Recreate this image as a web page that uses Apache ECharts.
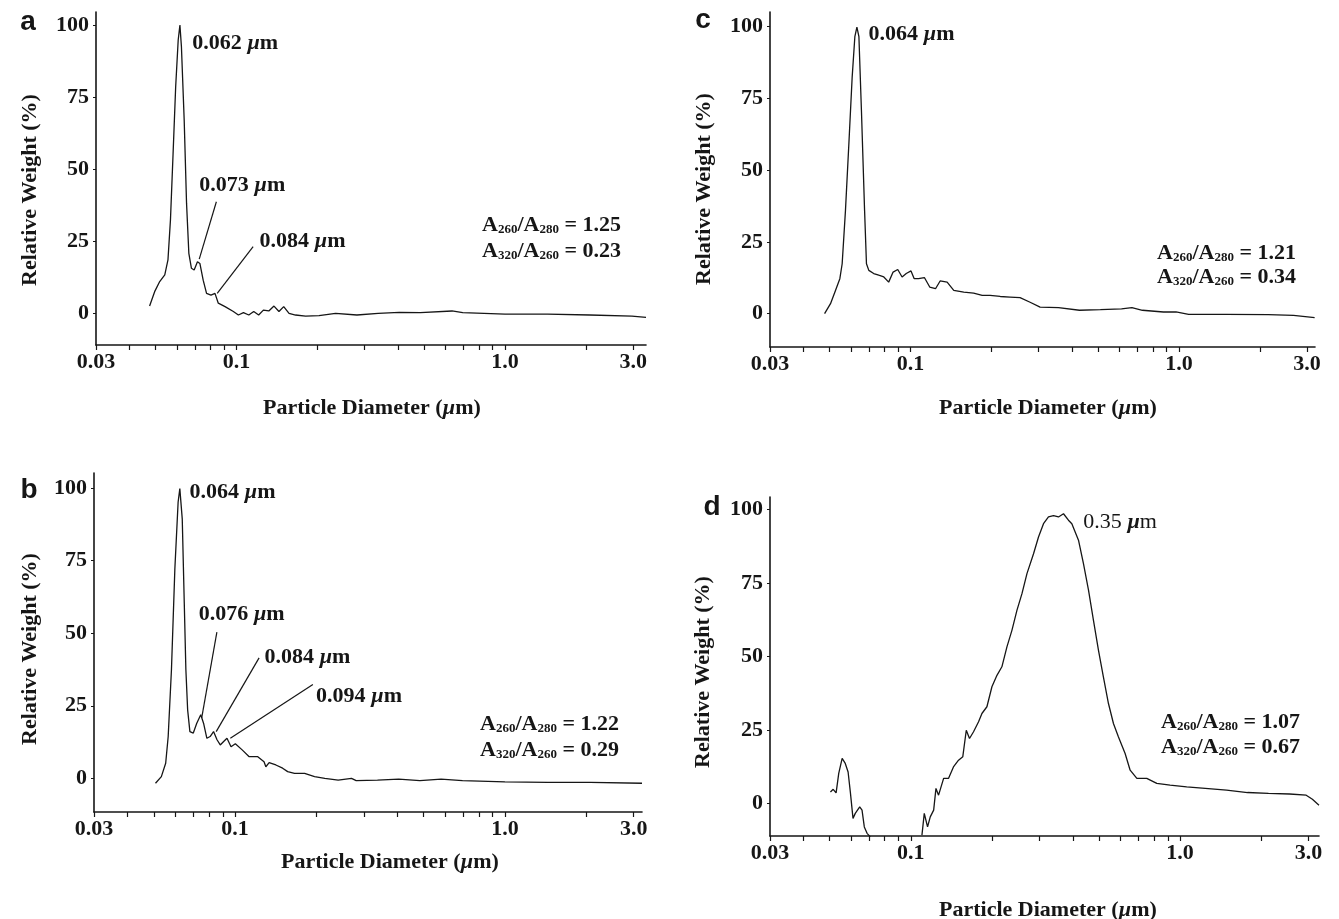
<!DOCTYPE html>
<html><head><meta charset="utf-8">
<script src="https://cdn.jsdelivr.net/npm/echarts@6/dist/echarts.min.js"></script>
<style>html,body{margin:0;padding:0;background:#fff}#c{width:1339px;height:919px}</style>
</head><body><div id="c"></div>
<script>
// ---------- data ----------
const xTickValues = [0.03, 0.1, 1, 3];
const xTickLabels = ['0.03', '0.1', '1.0', '3.0'];
const xMinorTickValues = [0.03,0.04,0.05,0.06,0.07,0.08,0.09,0.1,0.2,0.3,0.4,0.5,0.6,0.7,0.8,0.9,1,2,3];
const yTickValues = [0, 25, 50, 75, 100];
const panelLetters = ['a', 'b', 'c', 'd'];
const peakLabelsA = ['0.062', '0.073', '0.084'];
const peakLabelsB = ['0.064', '0.076', '0.084', '0.094'];
const peakLabelsC = ['0.064'];
const peakLabelsD = ['0.35'];
const ratio260280 = ['1.25', '1.22', '1.21', '1.07'];
const ratio320260 = ['0.23', '0.29', '0.34', '0.67'];
const xTitle = 'Particle Diameter';
const yTitle = 'Relative Weight (%)';

const curveA = [[0.0475,2.5],[0.0496,7.5],[0.0518,11],[0.0541,13.3],[0.0556,18.5],[0.0568,32.4],[0.0581,55.5],[0.0594,78.6],[0.0607,94.8],[0.0616,100],[0.0624,92.5],[0.0639,67],[0.0652,38.2],[0.0665,20.8],[0.068,15.6],[0.0696,15],[0.0716,17.9],[0.0731,17.3],[0.0752,11.5],[0.0774,6.9],[0.0804,6.3],[0.0832,6.9],[0.0856,3.5],[0.0907,2.3],[0.0974,0.6],[0.1017,-0.6],[0.1062,0.2],[0.1112,-0.6],[0.116,0.6],[0.121,-0.6],[0.126,1.1],[0.132,0.8],[0.138,2.5],[0.144,0.6],[0.150,2.3],[0.157,0],[0.166,-0.6],[0.181,-1],[0.203,-0.8],[0.234,0],[0.281,-0.6],[0.337,0],[0.404,0.3],[0.484,0.2],[0.635,0.8],[0.696,0.2],[1.0,-0.3],[1.44,-0.3],[2.07,-0.6],[2.97,-1],[3.35,-1.4]];
const curveB = [[0.0507,-1.7],[0.0533,0.6],[0.0553,5.2],[0.0565,14.4],[0.0581,37.5],[0.0598,72],[0.0615,95.2],[0.0624,99.8],[0.0637,89.4],[0.0648,60.6],[0.0657,37.5],[0.0667,23.6],[0.068,16.1],[0.070,15.6],[0.0721,19],[0.0746,21.9],[0.0764,19],[0.0786,13.8],[0.0808,14.4],[0.0832,16.1],[0.0857,13.3],[0.0881,11.5],[0.0907,12.7],[0.0933,13.8],[0.0966,10.9],[0.1002,11.9],[0.1062,9.8],[0.1125,7.5],[0.121,7.5],[0.128,5.7],[0.130,4],[0.1337,5.4],[0.1416,4.6],[0.15,3.5],[0.1566,2.3],[0.166,1.7],[0.181,1.7],[0.197,0.6],[0.215,0],[0.241,-0.6],[0.27,0],[0.281,-0.8],[0.337,-0.6],[0.404,-0.3],[0.484,-0.8],[0.58,-0.3],[0.696,-0.8],[1.0,-1.2],[1.44,-1.4],[2.07,-1.4],[3.22,-1.7]];
const curveC = [[0.0479,0],[0.0504,3.5],[0.0526,8.1],[0.0546,12.2],[0.0557,17.4],[0.0573,36],[0.059,59.3],[0.0607,82.6],[0.0621,96.5],[0.0632,99.8],[0.0643,96.5],[0.0657,70.9],[0.0675,36],[0.0686,17.4],[0.070,15.1],[0.073,14],[0.0762,13.4],[0.0796,12.8],[0.083,11],[0.0862,14.5],[0.0897,15.4],[0.0931,12.8],[0.0965,14],[0.1005,14.9],[0.1033,12.2],[0.1072,12.2],[0.1127,12.6],[0.118,9.3],[0.124,8.7],[0.129,11.4],[0.137,11],[0.145,8.1],[0.158,7.5],[0.172,7.2],[0.185,6.4],[0.198,6.4],[0.216,6],[0.235,5.8],[0.256,5.6],[0.279,4],[0.304,2.3],[0.356,2.1],[0.426,1.2],[0.51,1.4],[0.611,1.7],[0.668,2.1],[0.731,1.2],[0.875,0.6],[0.975,0.6],[1.086,-0.2],[1.5,-0.2],[2.15,-0.3],[2.67,-0.6],[3.2,-1.4]];
const curveD1 = [[0.0503,3.9],[0.0515,4.8],[0.0528,3.6],[0.054,10.2],[0.0556,15.3],[0.0571,13.6],[0.0585,10.7],[0.0597,3.4],[0.061,-5.1],[0.0622,-3.4],[0.0646,-1.2],[0.0659,-2.3],[0.0672,-8],[0.0688,-10.2],[0.0708,-11.4]];
const curveD2 = [[0.110,-10.8],[0.1122,-3.4],[0.1154,-8],[0.1181,-4.6],[0.1216,-2.3],[0.124,5.1],[0.1268,2.8],[0.1324,8.5],[0.138,8.5],[0.144,12.4],[0.1504,14.7],[0.156,15.9],[0.1607,24.9],[0.1652,22.1],[0.171,24.4],[0.1785,27.8],[0.1837,30.6],[0.1917,32.9],[0.2001,39.7],[0.2089,43.6],[0.2179,46.5],[0.2275,53.3],[0.2374,58.9],[0.2478,65.7],[0.2587,71.4],[0.27,78.2],[0.2856,85],[0.298,90.7],[0.311,95.2],[0.3245,97.5],[0.3388,98],[0.3535,97.5],[0.369,98.6],[0.385,96.4],[0.3963,95.2],[0.4195,89.6],[0.4377,81.6],[0.457,72.6],[0.4768,62.3],[0.4977,52.1],[0.519,43.1],[0.542,34],[0.5656,27.2],[0.590,22.7],[0.625,17],[0.6524,11.3],[0.691,8.5],[0.752,8.5],[0.8194,6.8],[0.918,6.2],[1.058,5.6],[1.24,5.1],[1.488,4.5],[1.78,3.7],[2.13,3.4],[2.55,3.2],[2.94,2.8],[3.1,1.4],[3.28,-0.6]];

// ---------- styling / layout ----------
const F = '"Liberation Serif","Times New Roman",serif';
const INK = '#161616';
const richText = {
  b: {fontFamily: F, fontWeight: 'bold', fontSize: 22, color: INK, fill: INK},
  n: {fontFamily: F, fontWeight: 'normal', fontSize: 22, color: INK, fill: INK},
  i: {fontFamily: F, fontWeight: 'bold', fontStyle: 'italic', fontSize: 22, color: INK, fill: INK},
  m: {fontFamily: F, fontWeight: 'bold', fontSize: 22, lineHeight: 22, color: INK, fill: INK},
  s: {fontFamily: F, fontWeight: 'bold', fontSize: 13, lineHeight: 9, verticalAlign: 'bottom', color: INK, fill: INK}
};
const layout = [
  {grid: {left: 96, top: 12, width: 550, height: 333}, xMax: 3.35, yMin: -11, yMax: 104.5},
  {grid: {left: 94, top: 473, width: 548, height: 339}, xMax: 3.22, yMin: -11.6, yMax: 105.2},
  {grid: {left: 770, top: 12, width: 545, height: 335}, xMax: 3.21, yMin: -11.6, yMax: 105.1},
  {grid: {left: 770, top: 497, width: 549, height: 339}, xMax: 3.28, yMin: -11.1, yMax: 104.3}
];

const grids = layout.map(l => Object.assign({containLabel: false}, l.grid));
const xAxes = layout.map((l, i) => ({
  type: 'log', logBase: 10, gridIndex: i, min: 0.03, max: l.xMax,
  axisLine: {show: true, onZero: false, lineStyle: {color: INK, width: 1.6}},
  axisTick: {show: true, inside: false, length: 5, lineStyle: {color: INK, width: 1.2}, customValues: xMinorTickValues},
  minorTick: {show: false},
  splitLine: {show: false},
  axisLabel: {show: true, margin: 6, color: INK, fontFamily: F, fontWeight: 'bold', fontSize: 22,
    customValues: xTickValues,
    formatter: v => { const k = xTickValues.findIndex(t => Math.abs(t - v) / t < 1e-6); return k >= 0 ? xTickLabels[k] : ''; }}
}));
const yAxes = layout.map((l, i) => ({
  type: 'value', gridIndex: i, min: l.yMin, max: l.yMax,
  axisLine: {show: true, onZero: false, lineStyle: {color: INK, width: 1.6}},
  axisTick: {show: true, inside: false, length: 3, lineStyle: {color: INK, width: 1}, customValues: yTickValues},
  splitLine: {show: false},
  axisLabel: {show: true, margin: 7, color: INK, fontFamily: F, fontWeight: 'bold', fontSize: 22, customValues: yTickValues}
}));

function muLabel(num, w) { return '{' + w + '|' + num + ' }{i|µ}{' + w + '|m}'; }
function leader(lines) {
  return {symbol: ['none', 'none'], silent: true, animation: false, label: {show: false},
    lineStyle: {color: INK, width: 1.2, type: 'solid'},
    emphasis: {disabled: true},
    data: lines.map(p => [{coord: p[0]}, {coord: p[1]}])};
}
function peaks(texts, coords, weight) {
  return {symbol: 'circle', symbolSize: 0, silent: true, animation: false,
    itemStyle: {color: 'rgba(0,0,0,0)'},
    label: {show: true, position: 'right', distance: 0, color: INK, rich: richText},
    data: texts.map((t, k) => ({coord: coords[k], label: {formatter: muLabel(t, weight)}}))};
}
function curve(data, i, extra) {
  return Object.assign({type: 'line', xAxisIndex: i, yAxisIndex: i, data: data, showSymbol: false, symbol: 'none',
    lineStyle: {color: INK, width: 1.3}, silent: true, animation: false, clip: true, z: 3}, extra || {});
}

const series = [
  curve(curveA, 0, {
    markPoint: peaks(peakLabelsA, [[0.0684, 93.8], [0.0727, 44.5], [0.122, 25.1]], 'b'),
    markLine: leader([[[0.0842, 38.7], [0.0727, 18.8]], [[0.1154, 23.1], [0.0848, 6.9]]])
  }),
  curve(curveB, 1, {
    markPoint: peaks(peakLabelsB, [[0.0678, 98.7], [0.0733, 56.5], [0.1284, 41.6], [0.1995, 28.1]], 'b'),
    markLine: leader([[[0.0856, 50.4], [0.0752, 20.8]], [[0.1227, 41.5], [0.0851, 16.1]], [[0.1942, 32.3], [0.096, 13.8]]])
  }),
  curve(curveC, 2, {
    markPoint: peaks(peakLabelsC, [[0.0698, 97.5]], 'b')
  }),
  curve(curveD1, 3),
  curve(curveD2, 3, {
    markPoint: peaks(peakLabelsD, [[0.4365, 95.7]], 'n')
  })
];

// ---------- free text ----------
const letterPos = [[28, 22], [29, 490], [703, 20], [712, 507]];
const yTitlePos = [[30, 190], [30, 649], [704, 189], [703, 672]];
const xTitlePos = [[372, 408], [390, 862], [1048, 408], [1048, 910]];
const ratioPos = [[482, 225, 251], [480, 724, 750], [1157, 253, 277], [1161, 722, 747]];

const graphic = [];
panelLetters.forEach((L, i) => {
  graphic.push({type: 'text', x: letterPos[i][0], y: letterPos[i][1], silent: true,
    style: {text: L, fill: INK, font: 'bold 28px "Liberation Sans", Arial, sans-serif', align: 'center', verticalAlign: 'middle'}});
  graphic.push({type: 'text', x: yTitlePos[i][0], y: yTitlePos[i][1], rotation: Math.PI / 2, silent: true,
    style: {text: yTitle, fill: INK, font: 'bold 22px ' + F, align: 'center', verticalAlign: 'middle'}});
  graphic.push({type: 'text', x: xTitlePos[i][0], y: xTitlePos[i][1], silent: true,
    style: {text: '{b|' + xTitle + ' (}{i|µ}{b|m)}', rich: richText, align: 'center', verticalAlign: 'middle'}});
  graphic.push({type: 'text', x: ratioPos[i][0], y: ratioPos[i][1], silent: true,
    style: {text: '{m|A}{s|260}{m|/A}{s|280}{m| = ' + ratio260280[i] + '}', rich: richText, align: 'left', verticalAlign: 'middle'}});
  graphic.push({type: 'text', x: ratioPos[i][0], y: ratioPos[i][2], silent: true,
    style: {text: '{m|A}{s|320}{m|/A}{s|260}{m| = ' + ratio320260[i] + '}', rich: richText, align: 'left', verticalAlign: 'middle'}});
});

const chart = echarts.init(document.getElementById('c'), null, {renderer: 'canvas'});
chart.setOption({
  backgroundColor: '#ffffff',
  animation: false,
  grid: grids,
  xAxis: xAxes,
  yAxis: yAxes,
  series: series,
  graphic: graphic
});
</script>
</body></html>
